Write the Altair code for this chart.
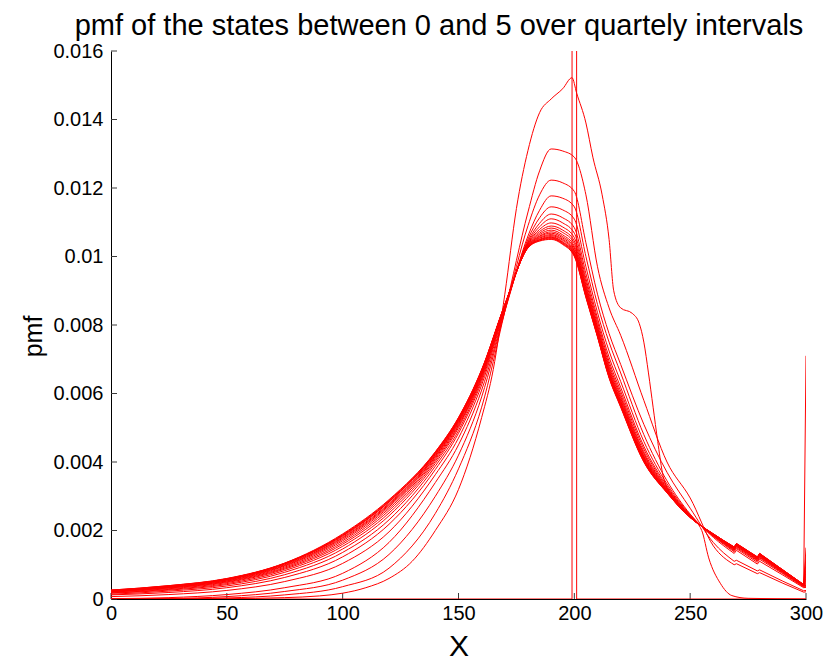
import altair as alt
import pandas as pd

TITLE = "pmf of the states between 0 and 5 over quartely intervals"
X_TITLE = "X"
Y_TITLE = "pmf"
X_TICKS = [0, 50, 100, 150, 200, 250, 300]
Y_TICKS = [0, 0.002, 0.004, 0.006, 0.008, 0.01, 0.012, 0.014, 0.016]

UNIT = 1e-6  # all pmf values below are given in millionths

# t = 0 : all mass on state 200
DELTA_X = [0, 199, 200, 201, 300]
DELTA_Y = [0, 0, 1000000, 0, 0]

# t = 0.25 (own sampling, sharp shape)
Q1_X = [0, 50, 75, 90, 100, 110, 120, 130, 140, 150, 160, 165, 170, 175, 180, 185,
        190, 195, 199, 201, 205, 208, 212, 215, 217, 220, 225, 228, 230, 232, 234,
        236, 238, 241, 245, 250, 255, 258, 263, 268, 275, 300]
Q1_Y = [0, 10, 40, 90, 170, 330, 600, 1100, 2000, 3200, 5300, 6700, 8900, 11400, 13100, 14200,
        14600, 14900, 15220, 14770, 13900, 12900, 11800, 10500, 9000, 8500, 8340,
        8050, 7500, 6600, 5600, 4600, 3700, 3100, 2700, 2400, 2000, 1200, 460, 100, 20, 0]

# t = 0.5 ... 5 on a common grid of states
GRID = [0, 25, 50, 75, 100, 120, 140, 150, 160, 170, 180, 185, 190, 195, 200, 205,
        210, 215, 220, 230, 240, 250, 260, 269, 270, 279, 280, 290, 299, 300]

Q2 = [0, 2, 30, 120, 360, 900, 2500, 3800, 5600, 8400, 11300, 12500, 13140, 13080, 12900, 11800,
      9700, 8500, 7700, 5800, 4000, 2950, 1550, 1000, 1030, 740, 770, 460, 200, 210]
Q3 = [3, 15, 70, 220, 550, 1300, 3000, 4200, 5900, 8400, 10900, 11800, 12230, 12150, 11900, 10400,
      8900, 7750, 6850, 5100, 3700, 2650, 1650, 1100, 1130, 820, 850, 520, 240, 250]
Q4 = [10, 40, 130, 330, 750, 1650, 3400, 4500, 6100, 8400, 10600, 11350, 11770, 11700, 11450, 10000,
      8600, 7500, 6600, 4800, 3450, 2480, 1800, 1330, 1420, 1020, 1100, 700, 330, 340]
Q5 = [70, 130, 250, 510, 1040, 1960, 3630, 4700, 6250, 8450, 10510, 11130, 11450, 11360, 11090, 9700,
      8360, 7240, 6350, 4600, 3360, 2460, 1830, 1380, 1470, 1070, 1160, 740, 350, 360]
Q6 = [120, 190, 330, 630, 1230, 2180, 3780, 4840, 6350, 8480, 10450, 10970, 11240, 11130, 10840, 9500,
      8200, 7060, 6180, 4460, 3300, 2440, 1840, 1410, 1500, 1110, 1200, 760, 370, 380]
Q7 = [140, 230, 380, 710, 1360, 2310, 3880, 4920, 6420, 8510, 10410, 10870, 11100, 10980, 10680, 9360,
      8100, 6940, 6070, 4380, 3260, 2430, 1850, 1430, 1530, 1130, 1220, 780, 380, 400]
Q8 = [170, 260, 420, 780, 1460, 2430, 3960, 5000, 6470, 8520, 10380, 10790, 10980, 10860, 10550, 9260,
      8010, 6850, 5980, 4300, 3230, 2420, 1860, 1450, 1540, 1150, 1240, 790, 390, 420]
Q9 = [180, 280, 450, 830, 1540, 2510, 4020, 5050, 6510, 8540, 10360, 10730, 10890, 10770, 10450, 9170,
      7940, 6780, 5910, 4250, 3210, 2410, 1870, 1460, 1560, 1170, 1260, 800, 390, 450]
Q10 = [200, 300, 480, 870, 1600, 2580, 4070, 5090, 6540, 8550, 10340, 10680, 10830, 10700, 10380, 9110,
       7900, 6720, 5860, 4210, 3190, 2410, 1870, 1470, 1570, 1180, 1270, 810, 400, 480]
Q11 = [210, 320, 500, 900, 1650, 2640, 4110, 5130, 6570, 8560, 10320, 10640, 10770, 10630, 10300, 9050,
       7850, 6670, 5810, 4170, 3170, 2400, 1880, 1480, 1580, 1190, 1280, 820, 400, 520]
Q12 = [220, 330, 520, 930, 1700, 2690, 4150, 5160, 6600, 8570, 10310, 10600, 10720, 10580, 10250, 9000,
       7810, 6630, 5770, 4140, 3160, 2400, 1880, 1490, 1590, 1190, 1290, 820, 400, 560]
Q13 = [230, 340, 530, 960, 1740, 2730, 4170, 5190, 6620, 8570, 10300, 10580, 10680, 10540, 10200, 8970,
       7780, 6600, 5740, 4110, 3150, 2390, 1890, 1490, 1590, 1200, 1300, 830, 410, 620]
Q14 = [230, 350, 550, 980, 1775, 2760, 4200, 5210, 6630, 8580, 10290, 10550, 10640, 10500, 10160, 8930,
       7750, 6570, 5710, 4090, 3140, 2390, 1890, 1500, 1600, 1210, 1300, 830, 410, 700]
Q15 = [240, 360, 560, 1000, 1800, 2790, 4220, 5230, 6650, 8580, 10280, 10530, 10610, 10470, 10120, 8900,
       7730, 6540, 5690, 4070, 3130, 2390, 1890, 1500, 1600, 1210, 1310, 840, 410, 800]
Q16 = [250, 370, 570, 1020, 1830, 2830, 4250, 5250, 6660, 8590, 10270, 10500, 10580, 10430, 10090, 8870,
       7710, 6510, 5660, 4050, 3120, 2390, 1890, 1510, 1610, 1220, 1320, 840, 410, 900]
Q17 = [250, 370, 580, 1030, 1850, 2840, 4260, 5260, 6670, 8590, 10270, 10490, 10560, 10410, 10070, 8850,
       7690, 6500, 5650, 4040, 3120, 2380, 1900, 1510, 1610, 1220, 1320, 840, 420, 1050]
Q18 = [250, 380, 590, 1040, 1865, 2860, 4270, 5280, 6680, 8590, 10260, 10480, 10540, 10390, 10040, 8840,
       7680, 6480, 5630, 4020, 3110, 2380, 1900, 1510, 1610, 1220, 1320, 850, 420, 1250]
Q19 = [260, 390, 590, 1045, 1880, 2880, 4290, 5290, 6690, 8600, 10260, 10460, 10520, 10370, 10020, 8820,
       7660, 6470, 5620, 4010, 3100, 2380, 1900, 1520, 1620, 1230, 1330, 850, 420, 1500]
Q20 = [260, 390, 600, 1050, 1900, 2900, 4300, 5300, 6700, 8600, 10250, 10450, 10500, 10350, 10000, 8800,
       7650, 6450, 5600, 4000, 3100, 2380, 1900, 1520, 1620, 1230, 1330, 850, 420, 7100]

GRID_SERIES = [Q2, Q3, Q4, Q5, Q6, Q7, Q8, Q9, Q10, Q11, Q12, Q13, Q14, Q15, Q16, Q17, Q18, Q19, Q20]
TAIL_START = 269  # from here on the curves are joined by straight segments (saw-tooth tail)

smooth_rows, tail_rows = [], []
for xv, yv in zip(Q1_X, Q1_Y):
    smooth_rows.append({"series": "q01", "x": xv, "pmf": yv * UNIT})
for i, ys in enumerate(GRID_SERIES):
    name = "q%02d" % (i + 2)
    for xv, yv in zip(GRID, ys):
        rec = {"series": name, "x": xv, "pmf": yv * UNIT}
        if xv <= TAIL_START:
            smooth_rows.append(rec)
        if xv >= TAIL_START:
            tail_rows.append(rec)
smooth_df = pd.DataFrame(smooth_rows)
tail_df = pd.DataFrame(tail_rows)
delta_df = pd.DataFrame({"series": "q00", "x": DELTA_X, "pmf": [v * UNIT for v in DELTA_Y]})

FONT = "Liberation Sans"
RED = "#ff0000"
TICK_COLOR = "#3a3a3a"

xscale = alt.Scale(domain=[0, 300], nice=False, zero=False)
yscale = alt.Scale(domain=[0, 0.016], nice=False)

x_axis = alt.Axis(title=X_TITLE, values=X_TICKS, ticks=False, grid=False, format="d",
                  labelFlush=False, labelOverlap=False,
                  domainColor="black", domainWidth=1,
                  labelFont=FONT, labelFontSize=20, labelColor="black", labelPadding=4,
                  titleFont=FONT, titleFontSize=30, titleFontWeight="normal", titleColor="black",
                  titleY=56, titleBaseline="alphabetic")
y_axis = alt.Axis(title=Y_TITLE, values=Y_TICKS, ticks=False, grid=False, format="~g",
                  labelFlush=False, labelOverlap=False,
                  domainColor="black", domainWidth=1,
                  labelFont=FONT, labelFontSize=20, labelColor="black", labelPadding=8,
                  titleFont=FONT, titleFontSize=25, titleFontWeight="normal", titleColor="black",
                  titleX=-70, titleY=285, titleAngle=270, titleBaseline="alphabetic",
                  titleAlign="center")

X_ENC = alt.X("x:Q", scale=xscale, axis=x_axis)
Y_ENC = alt.Y("pmf:Q", scale=yscale, axis=y_axis)

ytick = alt.Chart(pd.DataFrame({"pmf": Y_TICKS})).mark_rule(
    color=TICK_COLOR, strokeWidth=1).encode(
    y=Y_ENC, x=alt.value(0), x2=alt.value(6))

xtick = alt.Chart(pd.DataFrame({"x": X_TICKS})).mark_rule(
    color=TICK_COLOR, strokeWidth=1).encode(
    x=X_ENC, y=alt.value(548), y2=alt.value(542))

delta = alt.Chart(delta_df).mark_line(color=RED, strokeWidth=1, clip=True).encode(
    x=X_ENC, y=Y_ENC, detail="series:N")

smooth = alt.Chart(smooth_df).mark_line(
    color=RED, strokeWidth=1, interpolate="monotone", clip=True).encode(
    x=X_ENC, y=Y_ENC, detail="series:N")

tail = alt.Chart(tail_df).mark_line(
    color=RED, strokeWidth=1, clip=True).encode(
    x=X_ENC, y=Y_ENC, detail="series:N")

title = alt.Chart(pd.DataFrame({"t": [TITLE]})).mark_text(
    font=FONT, fontSize=29, color="black", align="center", baseline="alphabetic").encode(
    text="t:N", x=alt.value(328), y=alt.value(-16))

chart = alt.layer(ytick, xtick, delta, smooth, tail, title).properties(
    width=695, height=548,
    autosize=alt.AutoSizeParams(type="none"),
    padding={"left": 103, "top": 43, "right": 23, "bottom": 64},
).configure_view(stroke=None)

chart.save("out.html", embed_options={"renderer": "svg", "actions": False})
